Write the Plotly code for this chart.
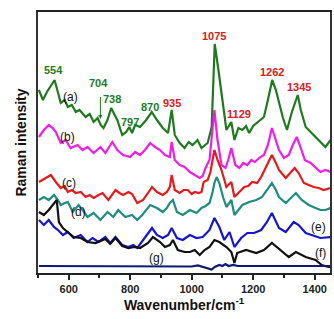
import plotly.graph_objects as go

# (a) green
a_x = [503,516,529,554,561,574,587,597,610,623,635,655,668,681,694,704,713,726,738,758,774,787,797,806,816,832,852,870,887,906,923,935,945,961,977,990,1003,1019,1032,1052,1065,1075,1087,1097,1113,1129,1139,1152,1165,1177,1187,1200,1213,1226,1235,1248,1262,1274,1284,1297,1310,1326,1345,1355,1371,1387,1403,1419,1435,1452]
a_y = [183,173,181,193,185,170,173,166,168,161,163,156,159,151,155,148,145,153,165,153,138,141,146,140,148,146,153,161,153,145,140,163,138,130,125,131,128,133,125,130,146,229,203,180,143,151,133,145,143,147,140,147,150,153,156,173,193,183,170,155,143,161,178,163,146,141,136,131,126,133]
# (b) magenta
b_x = [503,519,535,548,558,574,590,606,629,645,661,681,703,719,742,758,777,800,816,832,848,865,881,897,913,929,935,945,961,977,994,1010,1026,1036,1045,1058,1074,1084,1097,1110,1119,1129,1142,1155,1168,1181,1194,1206,1219,1235,1248,1261,1274,1284,1300,1316,1329,1342,1355,1368,1387,1406,1419,1435,1452]
b_y = [136,143,148,145,141,130,133,125,128,123,126,120,126,120,131,123,118,116,121,118,123,130,126,123,118,116,131,113,108,106,101,98,95,97,105,113,163,133,108,105,113,125,108,105,110,108,113,111,115,118,128,145,133,123,115,118,128,136,125,113,110,105,101,103,101]
# (c) red
c_x = [503,523,542,558,574,587,597,610,623,639,655,668,681,697,710,729,752,765,777,794,806,823,842,858,871,887,906,919,929,935,945,961,974,987,1000,1010,1023,1032,1039,1052,1061,1068,1074,1084,1097,1113,1129,1139,1155,1171,1184,1197,1213,1226,1245,1261,1274,1284,1306,1323,1335,1348,1365,1381,1397,1413,1429,1452]
c_y = [91,95,98,91,85,87,81,83,80,81,76,78,75,78,80,73,83,80,78,81,79,70,73,80,86,81,78,81,86,98,83,80,83,83,79,81,80,81,91,93,101,113,123,113,103,86,91,76,81,86,87,91,90,96,108,118,110,103,95,101,105,100,90,88,86,85,83,85]
# (d) teal
d_x = [503,519,535,552,565,574,587,597,613,632,645,661,681,703,726,745,761,784,806,823,839,852,865,887,906,919,929,939,952,971,994,1016,1032,1045,1058,1068,1074,1081,1090,1103,1113,1129,1139,1152,1165,1187,1210,1229,1245,1261,1274,1284,1306,1323,1339,1358,1381,1403,1419,1435,1452]
d_y = [73,76,73,78,73,68,70,71,61,68,63,56,60,53,61,56,63,56,58,53,58,63,68,65,61,65,70,73,61,58,63,60,65,67,70,81,90,96,90,75,66,73,58,63,68,71,73,76,83,90,83,76,70,75,80,73,68,65,63,63,65]
# (e) blue
e_x = [503,519,535,552,565,581,597,616,639,661,677,697,719,735,752,774,794,810,823,835,848,871,887,906,923,935,952,971,994,1016,1036,1058,1074,1090,1106,1123,1139,1161,1181,1203,1226,1245,1261,1284,1306,1332,1348,1371,1390,1419,1452]
e_y = [53,48,53,46,43,38,41,35,38,31,35,31,36,30,36,28,26,28,25,30,36,45,38,35,38,45,35,33,38,35,36,43,55,46,33,41,26,35,40,40,43,51,60,45,41,51,48,40,38,35,36]
# (f) black
f_x = [503,519,535,552,561,568,581,600,616,639,661,687,703,719,735,752,774,794,813,832,858,874,897,913,929,939,955,977,994,1010,1026,1042,1058,1074,1090,1113,1129,1139,1148,1177,1210,1235,1261,1290,1316,1339,1371,1403,1423,1445,1452]
f_y = [61,58,63,70,73,51,45,40,36,35,31,30,32,34,29,35,27,25,26,25,30,36,31,26,28,33,23,21,21,23,18,23,26,33,31,26,21,10,20,23,20,23,30,23,16,21,16,13,8,6,6]
# (g) navy
g_x = [503,600,700,800,900,950,1000,1020,1040,1055,1065,1075,1090,1100,1110,1120,1135,1150,1200,1300,1400,1452]
g_y = [7,7,7,7,7,7,6.5,7.5,6,5,3.5,6,8,7,9,7,8,7,7,7,7,7]

series = [("a", a_x, a_y, "#1f7a1f"), ("b", b_x, b_y, "#ee1ee8"), ("c", c_x, c_y, "#e41a1c"),
          ("d", d_x, d_y, "#1f8c80"), ("e", e_x, e_y, "#1515d0"), ("f", f_x, f_y, "#111111"),
          ("g", g_x, g_y, "#101a70")]

# peak labels
green_peaks = ["554", "704", "738", "797", "870"]
green_pos = [(550, 203), (697, 190), (742, 174), (800, 151), (865, 166)]
red_peaks = ["935", "1075", "1129", "1262", "1345"]
red_pos = [(935, 170), (1074, 237), (1155, 159), (1261, 201), (1348, 186)]

series_labels = ["(a)", "(b)", "(c)", "(d)", "(e)", "(f)", "(g)"]
series_label_pos = [(606, 176), (597, 136), (600, 90), (632, 61), (1413, 46), (1419, 20), (887, 15)]

FONT = "Liberation Sans, Arial, sans-serif"

fig = go.Figure()
for name, xs, ys, col in series:
    fig.add_trace(go.Scatter(x=xs, y=ys, mode="lines", line=dict(color=col, width=2.2), name=name, showlegend=False))

ann = []
for t, (x, y) in zip(green_peaks, green_pos):
    ann.append(dict(x=x, y=y, text=t, showarrow=False, font=dict(family=FONT, size=11, color="#1f7a1f", weight="bold")))
for t, (x, y) in zip(red_peaks, red_pos):
    ann.append(dict(x=x, y=y, text=t, showarrow=False, font=dict(family=FONT, size=11, color="#d42020", weight="bold")))
for t, (x, y) in zip(series_labels, series_label_pos):
    ann.append(dict(x=x, y=y, text=t, showarrow=False, font=dict(family=FONT, size=12, color="#111111")))
# arrow for 704
ann.append(dict(x=703, y=154, ax=703, ay=183, xref="x", yref="y", axref="x", ayref="y", text=" ",
                font=dict(size=8), showarrow=True, arrowhead=2, arrowsize=0.8, arrowwidth=1, arrowcolor="#1f7a1f"))

fig.update_layout(
    width=334, height=319,
    margin=dict(l=38, r=2, t=12, b=46),
    paper_bgcolor="white", plot_bgcolor="white",
    annotations=ann,
    xaxis=dict(range=[500, 1450], tickvals=[600, 800, 1000, 1200, 1400], ticks="outside", ticklen=5,
               tickwidth=1.5, tickcolor="#222", showline=True, linecolor="#222", linewidth=2, mirror=True,
               showgrid=False, zeroline=False,
               tickfont=dict(family=FONT, size=11, color="#222", weight="bold"),
               minor=dict(dtick=100, tick0=500, ticks="outside", ticklen=3, tickcolor="#222", showgrid=False),
               title=dict(text="Wavenumber/cm<sup>-1</sup>", standoff=4,
                          font=dict(family=FONT, size=14, color="#111", weight="bold"))),
    yaxis=dict(range=[0, 261], showticklabels=False, ticks="", showline=True, linecolor="#333", linewidth=2,
               mirror=True, showgrid=False, zeroline=False,
               title=dict(text="Raman intensity", standoff=6,
                          font=dict(family=FONT, size=14, color="#111", weight="bold"))),
)
fig.write_html("out.html", config={"displayModeBar": False},
               post_script="document.body.style.margin='0';document.body.style.padding='0';document.body.style.overflow='hidden';")
